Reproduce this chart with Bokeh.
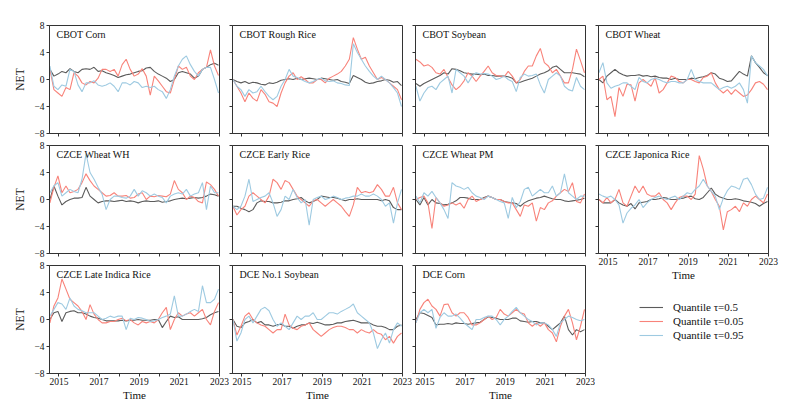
from bokeh.plotting import figure
from bokeh.layouts import row, column
from bokeh.models import Range1d, FixedTicker, Label, Legend, LegendItem
from bokeh.embed import file_html
from bokeh.resources import INLINE

FONT = "Liberation Serif"
C_MED = "#5b5b5b"
C_LO = "#F8837A"
C_HI = "#9ECAE1"
AX = "#333333"

# sampling dates (every 0.2 year)
years = [round(2014.55 + 0.2 * i, 2) for i in range(43)]

titles = ["CBOT Corn", "CBOT Rough Rice", "CBOT Soybean", "CBOT Wheat",
          "CZCE Wheat WH", "CZCE Early Rice", "CZCE Wheat PM", "CZCE Japonica Rice",
          "CZCE Late Indica Rice", "DCE No.1 Soybean", "DCE Corn"]

# ---- CBOT Corn
corn_med = [1.5, 0.5, 0.8, 1.2, 1.0, 1.6, 1.2, 1.0, 1.5, 1.6, 1.5, 1.8, 1.2, 1.3, 1.0, 0.8, 0.6, 0.3, 0.5, 0.7, 0.8, 1.0, 1.2, 1.3, 1.7, 1.8, 1.2, 0.8, 0.5, 0.2, -0.3, 0.0, 1.0, 1.2, 1.0, 0.8, 0.2, 0.5, 1.5, 1.8, 2.2, 2.4, 2.1]
corn_lo = [1.5, -1.5, -2.0, -2.5, -1.2, -1.5, 1.0, 0.5, -0.5, -0.8, -0.3, -0.5, 0.2, 1.5, 1.5, 1.2, 1.5, 0.5, 2.2, 3.0, 1.5, 0.5, 0.8, 1.6, 0.5, -2.3, 0.5, -0.2, -1.0, -1.8, -2.0, 0.0, 2.0, 1.5, 1.8, 0.5, 0.0, 1.0, 1.5, 1.8, 4.4, 2.0, 0.6]
corn_hi = [2.0, -1.0, -1.5, -0.8, -1.0, 1.5, 1.2, -0.8, -1.8, -0.5, -0.5, -0.2, -0.8, -1.0, -0.8, -0.5, -1.0, -1.8, -0.5, -0.5, -0.8, -0.3, -0.5, -1.2, -1.0, -1.2, -1.0, -1.5, -1.8, -2.8, -1.5, 0.5, 2.0, 3.0, 3.5, 2.2, 1.2, 0.5, 1.5, 1.8, 1.8, 0.0, -2.0]
# ---- CBOT Rough Rice
rice_med = [0.0, -0.3, -0.5, -0.3, -0.6, -0.4, -0.5, -0.7, -0.8, -0.5, -0.6, -0.4, -0.1, 0.0, 0.1, 0.0, 0.2, 0.0, 0.1, 0.2, 0.1, 0.0, 0.2, 0.1, 0.0, -0.1, 0.0, -0.3, -0.4, -0.6, 0.6, 0.3, 0.0, -0.4, -0.6, -0.5, -0.3, -0.2, 0.0, -0.1, -0.4, -0.3, -0.9]
rice_lo = [0.0, -1.0, -2.0, -3.3, -2.0, -2.8, -3.2, -1.5, -2.2, -3.3, -3.5, -4.0, -2.0, -0.5, 0.5, 1.0, 0.0, 0.4, 0.0, -0.5, -0.5, 0.0, 0.0, -0.5, 0.2, 0.5, 0.8, 1.2, 2.0, 3.0, 6.2, 4.5, 3.0, 3.3, 2.0, 1.0, 0.0, 0.3, 0.0, -0.5, -1.0, -1.5, -3.0]
rice_hi = [0.0, -1.0, -1.5, -2.5, -1.5, -2.0, -1.8, -1.0, -1.8, -2.5, -3.0, -2.5, -1.0, 0.0, 1.5, 0.5, 0.3, 0.0, -0.3, -0.5, -0.3, 0.0, 0.2, -0.2, -0.3, -0.2, -0.5, -0.6, -0.8, -0.9, 5.3, 4.0, 3.0, 2.0, 1.2, 0.5, 0.0, 0.5, 0.0, -0.5, -1.2, -2.0, -4.0]
# ---- CBOT Soybean
soy_med = [-0.6, -1.0, -0.6, -0.3, 0.0, 0.3, 0.6, 1.0, 0.8, 1.6, 1.5, 1.3, 1.0, 0.9, 0.8, 0.8, 0.7, 0.8, 0.6, 0.6, 0.5, 0.5, 0.5, 0.4, 0.2, -0.5, -0.4, -0.2, 0.0, 0.2, 0.5, 0.8, 1.0, 1.3, 1.8, 2.0, 1.5, 1.0, 1.0, 1.0, 0.9, 0.8, 0.4]
soy_lo = [3.0, 2.6, 2.0, 2.2, 1.8, 1.0, 0.8, 1.5, 0.3, -0.8, -1.5, -1.0, -0.2, 1.0, 0.5, -0.3, 0.5, 1.2, 2.0, 1.0, 0.6, 0.5, 0.4, 1.2, 0.5, -0.5, 0.0, 1.2, 2.0, 2.0, 3.5, 4.6, 2.5, 2.0, 1.0, 1.5, 0.5, -0.5, -0.5, 1.5, 4.5, 2.8, 1.0]
soy_hi = [-1.0, -3.2, -2.0, -1.2, -1.0, -1.5, -0.5, 0.0, 0.5, -2.0, 1.5, 1.0, 0.5, -0.5, 0.5, 1.0, 0.8, 0.9, 0.8, 0.5, 0.0, 0.2, 0.5, 0.0, -0.3, -1.8, 0.3, 0.8, 0.5, 0.6, 0.8, -0.8, -2.0, 0.0, 0.5, 1.0, 0.5, -1.0, -1.5, -1.7, 0.3, -1.0, -1.5]
# ---- CBOT Wheat
wheat_med = [0.0, -0.5, 0.5, 1.0, 1.5, 1.0, 0.7, 0.5, 0.6, 0.6, 0.7, 0.5, 0.6, 0.4, 0.5, 0.3, 0.2, 0.2, 0.0, 0.2, 0.0, 0.0, 0.0, 0.2, 0.1, 0.3, 0.4, 0.6, 1.0, 0.8, 0.2, 0.0, -0.3, -0.2, 0.5, 1.2, 0.8, 0.5, 3.5, 2.5, 1.8, 1.0, 0.6]
wheat_lo = [0.0, 0.5, -3.0, -2.5, -5.5, -1.2, -2.5, -0.7, -0.8, -3.2, -0.5, 0.0, -0.5, -1.0, 0.3, -2.0, -1.5, -0.5, 0.5, 0.3, -0.3, -0.5, 0.0, 0.0, -0.3, -0.5, 0.3, 0.5, 1.0, -0.5, -1.5, -2.0, -1.5, -2.2, -1.5, -2.0, -2.5, -2.3, -1.5, -0.5, -0.3, -0.7, -1.5]
wheat_hi = [1.0, 2.5, -0.5, -1.3, -1.0, -0.8, -0.5, -0.5, -1.0, -1.5, 0.3, -0.3, -0.5, 0.0, 0.2, 0.0, -0.3, -0.5, -0.3, -0.3, -0.5, -0.5, 0.0, 1.5, 0.0, -0.3, -0.5, -0.5, -0.5, -1.0, -1.5, -1.2, -1.0, -1.3, -1.0, -0.5, -1.5, -3.5, 3.5, 2.5, 2.0, 1.5, 0.5]
# ---- CZCE Wheat WH
wh_med = [0.0, 2.0, 0.5, -0.8, -0.3, 0.0, 0.2, 0.2, 0.3, 1.8, 0.5, 0.0, -0.5, -0.3, -0.2, -0.2, -0.3, -0.2, -0.1, -0.3, -0.2, -0.3, -0.5, -0.3, -0.2, -0.3, -0.3, -0.2, -0.4, -0.3, -0.2, 0.0, 0.1, 0.2, 0.1, 0.2, 0.3, 0.2, 0.3, 0.5, 0.8, 0.7, 0.5]
wh_lo = [-0.5, 1.8, 3.5, 1.0, 2.0, 1.0, 1.2, 1.5, 2.5, 3.8, 2.8, 2.0, 1.5, 1.0, 0.5, 0.6, 1.0, 0.5, 0.5, 0.6, 0.2, 0.3, 0.8, 1.0, 0.0, 0.5, 0.4, 0.6, 0.5, 0.4, 0.8, 2.8, 1.5, 1.0, 0.0, 0.5, 0.3, -0.3, -0.5, 2.6, 2.2, 1.5, 0.5]
wh_hi = [1.0, 2.0, 2.5, 0.5, 1.0, 1.5, 1.2, 1.0, 3.0, 6.8, 4.0, 3.0, 1.8, 0.8, -1.5, 0.0, 0.5, 0.5, 0.3, 0.2, 0.5, 1.5, 0.5, 1.3, 1.0, 0.5, 0.8, 0.5, 0.3, -0.5, 0.5, 0.8, 1.0, 0.8, 1.5, 0.5, 0.8, 1.0, 2.5, -1.5, 2.0, 1.0, 1.0]
# ---- CZCE Early Rice
er_med = [-1.0, -1.0, -1.3, -1.5, -1.8, -1.5, -0.5, -0.2, -0.3, -0.3, -0.5, -0.5, -0.4, -0.2, -0.2, 0.0, 0.1, 0.3, -0.2, -0.5, -0.3, 0.0, 0.5, 0.4, 0.3, 0.3, 0.2, 0.0, -0.2, 0.0, 0.0, 0.1, 0.0, 0.0, 0.0, 0.0, 0.0, -0.2, 0.0, -0.2, -1.2, -1.5, -1.5]
er_lo = [-1.0, -2.3, -1.5, -1.0, 0.5, 1.0, 0.5, 0.0, -0.5, 0.5, 3.0, 2.5, 1.5, 2.8, 2.5, 1.5, 0.5, 0.0, -0.5, -1.0, -0.2, 0.0, -0.5, -1.0, -0.5, 0.0, -0.5, -1.0, -1.8, -2.5, -0.8, 1.8, 1.0, 1.2, 1.0, 1.2, 2.2, 1.5, 0.5, 0.5, 1.8, -0.5, -1.5]
er_hi = [-1.0, -1.5, -1.0, 0.5, 3.0, -0.3, 0.0, 0.3, 0.5, 1.0, -0.5, -2.5, -1.5, 0.5, 0.0, 1.5, 0.3, -0.5, 0.0, -3.8, 0.0, 0.3, 0.5, 0.0, 0.2, 0.5, 0.3, 0.0, 0.2, 0.3, 0.5, 0.5, 0.8, 0.5, 0.5, 0.8, 0.5, 0.0, -1.0, -0.5, -3.5, -0.5, 1.5]
# ---- CZCE Wheat PM
pm_med = [0.0, -0.8, 0.3, -0.8, 0.0, -0.5, -0.6, -0.8, -0.7, -0.5, -0.2, 0.3, 0.3, 0.2, 0.0, 0.0, 0.0, 0.3, 0.5, 0.3, 0.0, 0.0, -0.3, -0.4, -0.5, -0.6, -1.0, -0.5, -0.2, 0.0, 0.2, 0.3, 0.5, 0.3, 0.1, 0.0, 0.0, -0.2, -0.3, -0.2, -0.1, 0.0, 0.2]
pm_lo = [0.0, 0.3, 0.5, -0.5, -4.3, 0.3, -0.5, -1.0, -0.8, -0.5, -0.8, -0.5, -1.3, 0.0, 0.5, -0.3, 0.0, 0.2, 0.5, 0.3, 0.0, 0.0, -0.3, -0.5, -0.5, -1.5, -2.5, -0.8, -1.0, -0.5, -3.2, -1.2, -1.5, -0.5, -0.2, 0.5, 1.0, 1.5, 1.2, 2.5, -0.3, -0.5, 0.8]
pm_hi = [0.5, -0.5, 1.0, 0.5, 1.2, 0.3, -0.5, -1.5, -2.8, 2.5, 2.0, 1.8, 1.5, 1.8, 1.0, 0.5, 0.3, 0.0, 0.5, 0.3, 0.0, -0.3, -0.5, -2.8, 0.3, -1.2, -0.3, 1.5, 1.8, 0.5, 1.0, 1.5, 1.0, 1.0, 2.0, 0.5, 1.0, 3.8, 1.0, 0.5, 0.0, 0.5, 0.5]
# ---- CZCE Japonica Rice
jr_med = [0.0, -0.5, -0.5, -0.5, 0.0, -0.5, -0.8, -1.0, -0.6, -1.4, -0.5, -0.4, -0.3, 0.0, 0.0, 0.1, 0.3, 0.2, 0.0, 0.0, 0.1, 0.2, 0.4, 0.5, 0.1, 0.0, 0.3, 1.0, 1.7, 0.8, 0.4, 0.2, 0.0, 0.0, 0.1, 0.0, -0.2, -0.3, -0.4, -0.6, -1.0, -0.6, -0.3]
jr_lo = [0.0, -0.5, 0.3, -0.5, 0.0, 1.5, -0.5, -1.0, 0.5, 2.0, 1.0, 2.0, 0.8, 0.5, 0.5, 1.0, 0.0, -0.5, -1.5, -0.5, 0.3, 0.5, 0.5, 0.0, 0.8, 6.5, 4.5, 2.0, 1.2, 0.0, -1.0, -4.5, -1.8, -1.5, -1.0, -1.8, -0.5, -1.0, 0.0, 0.5, 0.0, -0.5, 0.8]
jr_hi = [0.8, 0.5, 0.3, 0.5, 0.0, -0.8, -3.5, -2.0, -1.3, -0.8, 0.0, -1.2, -0.5, 0.0, 0.3, 0.5, 0.2, 0.0, 0.3, 0.5, 0.0, 0.5, 1.0, 0.8, 1.5, 2.0, 3.0, 2.0, 1.2, 0.5, -1.5, 0.2, 1.3, 2.0, 1.8, 1.5, 3.0, 3.2, 2.2, 0.8, 0.0, 0.2, 1.8]
# ---- CZCE Late Indica Rice
li_med = [0.0, 1.0, 1.2, -0.3, 1.0, 1.2, 1.3, 1.0, 1.0, 0.8, 0.5, 0.3, 0.2, 0.0, -0.2, -0.2, -0.2, -0.2, -0.1, -0.2, -0.1, -0.1, 0.0, -0.1, -0.1, -0.1, 0.0, 0.0, -1.2, -0.3, 0.5, 0.3, 0.4, 0.0, 0.0, 0.0, 0.0, 0.0, 0.1, 0.3, 0.7, 1.0, 1.2]
li_lo = [-0.5, 2.0, 3.2, 6.0, 4.5, 3.0, 2.5, 2.0, 1.2, 0.0, 2.2, 0.8, 0.0, -0.5, -0.5, -0.3, -0.3, 0.0, 0.2, -0.2, 0.0, -0.5, -0.8, -0.3, -0.5, -0.3, -0.5, 0.0, 1.0, 1.8, -1.5, 0.0, 1.0, 0.5, 0.8, 1.0, 0.5, 1.0, 1.5, 0.0, -0.8, 1.2, 2.5]
li_hi = [0.5, 1.5, 2.5, 2.3, 1.5, 3.2, 2.0, 1.5, 1.3, 1.0, 1.0, 1.0, 0.5, 0.0, 0.2, 0.5, 0.3, 0.5, 0.5, -1.5, 0.2, 0.0, 0.3, 0.2, 0.0, -0.3, -0.2, 0.0, 0.3, 0.5, 0.8, 3.5, 0.5, 0.5, 0.8, 1.2, 1.5, 1.2, 5.0, 2.5, 2.5, 3.0, 4.5]
# ---- DCE No.1 Soybean
ds_med = [0.0, -1.0, -1.2, -0.5, -0.3, 0.0, -0.5, -0.3, -0.8, -0.8, -1.0, -0.8, -0.7, -1.0, -1.0, -1.3, -1.0, -0.8, -0.8, -0.5, -0.6, -0.4, -0.6, -0.8, -0.8, -0.7, -0.5, -0.5, -0.3, -0.2, -0.1, -0.3, -0.5, -0.5, -0.5, -0.8, -1.0, -1.0, -1.2, -1.5, -1.5, -1.0, -0.8]
ds_lo = [0.0, -2.3, -1.0, 0.5, 1.0, 0.0, -0.5, -0.8, -1.0, -1.5, -2.0, -1.5, -1.5, 0.8, -0.8, -1.3, -1.5, -1.0, -0.8, -0.5, -1.5, -2.0, -2.5, -2.0, -1.5, -1.2, -1.0, -1.0, -1.2, -1.5, -1.5, -2.0, -1.5, -1.8, -2.0, -1.5, -2.0, -2.2, -3.0, -2.5, -3.5, -2.5, -2.0]
ds_hi = [0.0, -3.2, -2.0, 0.0, 0.5, -0.5, 0.5, 1.5, 1.8, 1.3, 0.0, -1.0, -0.5, -1.0, -1.5, -0.5, 0.5, 0.0, 0.5, 0.5, 1.0, 0.0, 0.0, 0.5, 1.0, 1.0, 0.8, 1.2, 1.5, 1.8, 2.3, 1.0, 0.5, 0.0, -0.5, -2.0, -4.3, -3.0, -2.0, -3.5, -1.5, -0.5, -1.0]
# ---- DCE Corn
dc_med = [0.0, 1.0, 0.9, 0.6, 0.3, -0.8, -0.7, -0.7, -0.6, -0.7, -0.5, -0.6, -0.6, -0.7, -0.6, -0.5, -0.4, 0.0, 0.4, 0.3, 0.2, 0.0, 0.0, 0.0, 0.2, 0.2, -0.2, -0.3, -0.4, -0.3, -0.3, -0.5, -0.5, -1.0, -1.5, -1.0, -0.5, 0.5, -1.5, -2.3, -1.5, -1.8, -1.5]
dc_lo = [-0.5, 1.5, 2.5, 3.0, 2.0, 1.5, 0.5, 2.2, 2.3, 1.0, 0.5, 1.0, 1.0, 0.3, -0.8, -0.8, -0.5, 0.0, 0.5, 0.0, 0.3, 1.5, 0.8, 0.5, 1.0, 1.5, 1.0, 0.8, -0.5, -1.0, -0.5, -1.0, -0.5, -1.5, -2.0, -3.3, -1.0, 0.5, 1.5, -0.5, -3.0, -1.0, 1.5]
dc_hi = [-0.5, 1.0, 1.5, 1.0, 1.5, -1.3, 0.3, 1.0, 0.5, 0.5, 0.8, 0.2, -0.5, -1.0, -1.5, 0.0, 0.0, 0.3, 0.5, 0.5, 0.0, -0.8, 0.0, 0.5, 1.2, 1.8, 1.0, 0.5, 0.0, -0.3, -0.8, -0.5, -0.5, -0.8, -1.5, -2.5, -0.5, 0.0, 0.5, 0.3, 0.0, -0.2, 0.0]

series = [
    (corn_med, corn_lo, corn_hi), (rice_med, rice_lo, rice_hi),
    (soy_med, soy_lo, soy_hi), (wheat_med, wheat_lo, wheat_hi),
    (wh_med, wh_lo, wh_hi), (er_med, er_lo, er_hi),
    (pm_med, pm_lo, pm_hi), (jr_med, jr_lo, jr_hi),
    (li_med, li_lo, li_hi), (ds_med, ds_lo, ds_hi),
    (dc_med, dc_lo, dc_hi),
]
for s in series:
    for arr in s:
        assert len(arr) == len(years), len(arr)

legend_labels = ["Quantile \u03c4=0.5", "Quantile \u03c4=0.05", "Quantile \u03c4=0.95"]
year_ticks = [2015, 2016, 2017, 2018, 2019, 2020, 2021, 2022, 2023]
net_ticks = [-8, -4, 0, 4, 8]

X0, X1 = 2014.53, 2023.0
FW, FH = 170, 108
TOP0, GAP_B, GAP_T, BOT = 25, 6, 6, 30


def make_panel(idx, col, rw, xlabels):
    left = 49 if col == 0 else 3
    right = 14 if col == 3 else 10
    top = TOP0 if rw == 0 else GAP_T
    bottom = BOT if xlabels else GAP_B
    p = figure(width=left + FW + right, height=top + FH + bottom,
               x_range=Range1d(X0, X1), y_range=Range1d(-8, 8),
               output_backend="svg", toolbar_location=None,
               min_border_left=left, min_border_right=right,
               min_border_top=top, min_border_bottom=bottom)
    p.xgrid.visible = False
    p.ygrid.visible = False
    p.outline_line_color = AX
    p.outline_line_width = 1
    p.background_fill_color = "white"
    p.border_fill_color = "white"
    med, lo, hi = series[idx]
    p.line(years, med, line_color=C_MED, line_width=1.1)
    p.line(years, lo, line_color=C_LO, line_width=1.1)
    p.line(years, hi, line_color=C_HI, line_width=1.1)

    for ax in (p.xaxis[0], p.yaxis[0]):
        ax.axis_line_color = AX
        ax.major_tick_line_color = AX
        ax.major_tick_out = 3
        ax.major_tick_in = 0
        ax.minor_tick_line_color = None
        ax.major_label_text_font = FONT
        ax.major_label_text_font_size = "9.5px"
        ax.major_label_text_color = "#111111"
        ax.axis_label_text_font = FONT
        ax.axis_label_text_font_style = "normal"
        ax.axis_label_text_color = "#111111"

    xa = p.xaxis[0]
    xa.ticker = FixedTicker(ticks=year_ticks)
    if xlabels:
        xa.major_label_overrides = {t: (str(t) if t % 2 == 1 else "") for t in year_ticks}
        xa.major_label_standoff = 1
        xa.axis_label = "Time"
        xa.axis_label_text_font_size = "11px"
        xa.axis_label_standoff = 1
    else:
        xa.major_label_overrides = {t: "" for t in year_ticks}
        xa.major_label_text_font_size = "1px"
        xa.major_label_standoff = 0

    ya = p.yaxis[0]
    ya.ticker = FixedTicker(ticks=net_ticks)
    if col == 0:
        ya.major_label_standoff = 2
        ya.axis_label = "NET"
        ya.axis_label_text_font_size = "11.5px"
        ya.axis_label_standoff = 5
    else:
        ya.major_label_overrides = {t: "" for t in net_ticks}
        ya.major_label_text_font_size = "1px"
        ya.major_label_standoff = 0

    p.add_layout(Label(x=X0, y=8, x_offset=7, y_offset=-3, text=titles[idx],
                       text_baseline="top", text_align="left",
                       text_font=FONT, text_font_size="10px", text_color="#111111"))
    return p


pos = [(0, 0), (1, 0), (2, 0), (3, 0),
       (0, 1), (1, 1), (2, 1), (3, 1),
       (0, 2), (1, 2), (2, 2)]
figs = []
for i, (c, r) in enumerate(pos):
    xl = (r == 2) or (i == 7)
    figs.append(make_panel(i, c, r, xl))

# legend panel (its lines fall outside its own 0..1 ranges, so only the legend shows)
total_h = TOP0 + FH + GAP_B + (GAP_T + FH + GAP_B) + (GAP_T + FH + BOT)
leg_h = total_h - (TOP0 + FH + GAP_B) - (GAP_T + FH + BOT)
pl = figure(width=3 + FW + 14, height=leg_h, x_range=Range1d(0, 1), y_range=Range1d(0, 1),
            output_backend="svg", toolbar_location=None,
            min_border_left=3, min_border_right=14, min_border_top=0, min_border_bottom=0)
pl.axis.visible = False
pl.xgrid.visible = False
pl.ygrid.visible = False
pl.outline_line_color = None
rm = pl.line(years, corn_med, line_color=C_MED, line_width=1.1)
rl = pl.line(years, corn_lo, line_color=C_LO, line_width=1.1)
rh = pl.line(years, corn_hi, line_color=C_HI, line_width=1.1)
legend = Legend(items=[LegendItem(label=legend_labels[0], renderers=[rm]),
                       LegendItem(label=legend_labels[1], renderers=[rl]),
                       LegendItem(label=legend_labels[2], renderers=[rh])],
                location=(41, leg_h - 59), padding=0, margin=0, spacing=0,
                glyph_width=24, glyph_height=14, label_height=14, label_standoff=10,
                label_text_font=FONT, label_text_font_size="11px", label_text_color="#111111",
                border_line_alpha=0, background_fill_alpha=0)
pl.add_layout(legend)

layout = row(column(figs[0], figs[4], figs[8]),
             column(figs[1], figs[5], figs[9]),
             column(figs[2], figs[6], figs[10]),
             column(figs[3], figs[7], pl))

open("out.html", "w").write(file_html(layout, INLINE))
